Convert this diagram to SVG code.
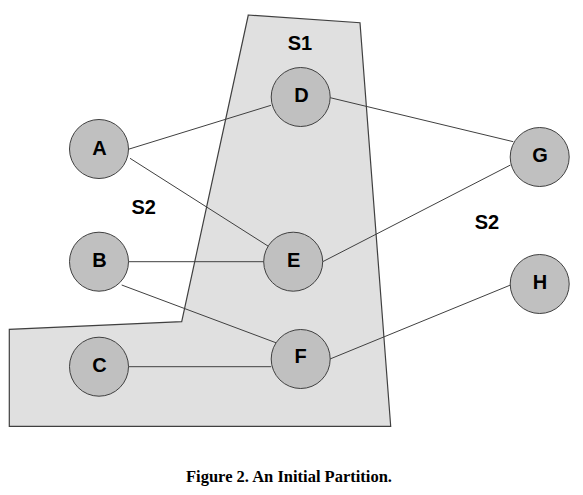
<svg xmlns="http://www.w3.org/2000/svg" width="583" height="495" viewBox="0 0 583 495">
<style>
.region{fill:#e0e0e0;stroke:#404040;stroke-width:1.2}
.edge{stroke:#404040;stroke-width:1;fill:none}
.node circle{fill:#c0c0c0;stroke:#404040;stroke-width:1}
.lbl{font-family:"Liberation Sans",Arial,sans-serif;font-weight:bold;font-size:20px;text-anchor:middle;fill:#000}
.cap{font-family:"Liberation Serif","Times New Roman",serif;font-weight:bold;font-size:16.5px;text-anchor:middle;fill:#000}
</style>
<rect width="583" height="495" fill="#fff"/>
<g id="partition">
<polygon class="region" points="248.3,15 360,22.7 390.7,426.3 9.3,426.3 9.3,329.3 181.7,321.7"/>
<text class="lbl" x="300" y="49.5">S1</text>
<text class="lbl" x="143.7" y="213.8">S2</text>
<text class="lbl" x="487" y="228.8">S2</text>
</g>
<g id="connectors">
<line class="edge" x1="128.3" y1="149.3" x2="271" y2="105.3"/>
<line class="edge" x1="130" y1="158.3" x2="269" y2="246.7"/>
<line class="edge" x1="128.5" y1="261.7" x2="264" y2="261.7"/>
<line class="edge" x1="121.7" y1="285" x2="279.3" y2="344"/>
<line class="edge" x1="128.5" y1="366.7" x2="271.2" y2="366.7"/>
<line class="edge" x1="330.2" y1="97.7" x2="513.3" y2="141.7"/>
<line class="edge" x1="322.7" y1="261.7" x2="510.5" y2="165"/>
<line class="edge" x1="330" y1="359" x2="510.5" y2="285"/>
</g>
<g id="node-A" class="node"><circle cx="99" cy="149" r="29.5"/><text class="lbl" x="99.5" y="154.5">A</text></g>
<g id="node-B" class="node"><circle cx="99" cy="261.7" r="29.5"/><text class="lbl" x="99.5" y="267">B</text></g>
<g id="node-C" class="node"><circle cx="99" cy="366.7" r="29.5"/><text class="lbl" x="99.5" y="372">C</text></g>
<g id="node-D" class="node"><circle cx="300.7" cy="97" r="29.5"/><text class="lbl" x="301.5" y="102">D</text></g>
<g id="node-E" class="node"><circle cx="293.2" cy="261.7" r="29.5"/><text class="lbl" x="293.7" y="266.5">E</text></g>
<g id="node-F" class="node"><circle cx="300.7" cy="359" r="29.5"/><text class="lbl" x="300.7" y="363">F</text></g>
<g id="node-G" class="node"><circle cx="539.7" cy="157" r="29.5"/><text class="lbl" x="540" y="162">G</text></g>
<g id="node-H" class="node"><circle cx="539.7" cy="284" r="29.5"/><text class="lbl" x="540" y="289">H</text></g>
<text class="cap" x="289" y="481.5">Figure 2. An Initial Partition.</text>
</svg>
